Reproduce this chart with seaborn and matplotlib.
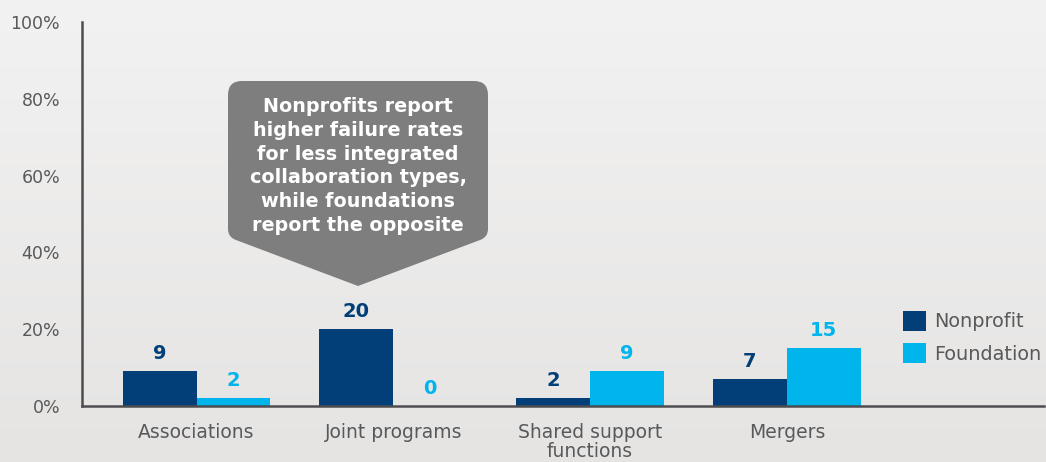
import numpy as np
import pandas as pd
import matplotlib
matplotlib.use("Agg")
import matplotlib.pyplot as plt
import seaborn as sns
from matplotlib.path import Path
from matplotlib.patches import PathPatch
from matplotlib.transforms import Affine2D

# ---- data ----
categories = ["Associations", "Joint programs", "Shared support\nfunctions", "Mergers"]
nonprofit = [9, 20, 2, 7]
foundation = [2, 0, 9, 15]
series = ["Nonprofit", "Foundation"]
yticks = [0, 20, 40, 60, 80, 100]
ytick_labels = ["0%", "20%", "40%", "60%", "80%", "100%"]
callout_text = ("Nonprofits report\nhigher failure rates\nfor less integrated\n"
                "collaboration types,\nwhile foundations\nreport the opposite")

NAVY = "#023F78"
SKY = "#00B4EC"
AXIS = "#4D4D4F"
TEXT = "#58595B"

df = pd.DataFrame({
    "category": categories * 2,
    "group": [series[0]] * len(nonprofit) + [series[1]] * len(foundation),
    "value": nonprofit + foundation,
})

sns.set_theme(style="white")
plt.rcParams["font.family"] = ["DejaVu Sans"]

W, H = 1046, 462
fig = plt.figure(figsize=(W / 100, H / 100), dpi=100)

# soft vertical gradient behind everything
bg = fig.add_axes([0, 0, 1, 1], zorder=-10)
t = np.linspace(0, 1, 256)[:, None, None]
top = np.array([243, 242, 242]) / 255
bot = np.array([229, 228, 227]) / 255
bg.imshow(top + (bot - top) * t, aspect="auto", extent=[0, 1, 0, 1], origin="upper")
bg.axis("off")

ax = fig.add_axes([82 / W, 1 - 406 / H, (1044 - 82) / W, (406 - 22) / H])
ax.patch.set_alpha(0)

sns.barplot(data=df, x="category", y="value", hue="group", hue_order=series,
            palette=[NAVY, SKY], width=0.75, gap=0, saturation=1,
            errorbar=None, linewidth=0, edgecolor="none", ax=ax)

ax.set_xlim(-0.582, 4.307)
ax.set_ylim(0, 100)
ax.set_yticks(yticks)
ax.set_yticklabels(ytick_labels)
ax.set_xlabel("")
ax.set_ylabel("")

for side in ["top", "right"]:
    ax.spines[side].set_visible(False)
for side in ["left", "bottom"]:
    ax.spines[side].set_color(AXIS)
    ax.spines[side].set_linewidth(1.8)

ax.tick_params(axis="y", direction="out", length=5.8, width=1.8, color=AXIS,
               labelsize=12.5, labelcolor=TEXT, pad=10)
ax.tick_params(axis="x", length=0, labelsize=13.5, labelcolor=TEXT, pad=12)
for lbl in ax.get_xticklabels():
    lbl.set_linespacing(1.05)

# value labels above bars
for cont, color in zip(ax.containers, [NAVY, SKY]):
    ax.bar_label(cont, fmt="%g", padding=6, color=color,
                 fontsize=14, fontweight="bold")

# legend
handles, labels = ax.get_legend_handles_labels()
ax.legend(handles, labels, loc="upper left", frameon=False,
          bbox_to_anchor=(903 / W, 1 - 311 / H), bbox_transform=fig.transFigure,
          fontsize=13.9, handlelength=1.19, handleheight=1.2, handletextpad=0.42,
          labelspacing=0.62, borderpad=0, borderaxespad=0, labelcolor=TEXT)

# callout arrow box, laid out in pixel units (y downward)
px = Affine2D().scale(1 / W, -1 / H).translate(0, 1) + fig.transFigure
x0, x1, y0, yb = 228, 488, 81, 237
tip = (358, 286)
r, r2 = 14, 8
dx, dy = 130 / 139 * r2, 49 / 139 * r2
verts = [
    (x0 + r, y0), (x1 - r, y0),
    (x1, y0), (x1, y0 + r),
    (x1, yb - r2),
    (x1, yb), (x1 - dx, yb + dy),
    tip,
    (x0 + dx, yb + dy),
    (x0, yb), (x0, yb - r2),
    (x0, y0 + r),
    (x0, y0), (x0 + r, y0),
    (x0 + r, y0),
]
codes = [Path.MOVETO, Path.LINETO,
         Path.CURVE3, Path.CURVE3,
         Path.LINETO,
         Path.CURVE3, Path.CURVE3,
         Path.LINETO,
         Path.LINETO,
         Path.CURVE3, Path.CURVE3,
         Path.LINETO,
         Path.CURVE3, Path.CURVE3,
         Path.CLOSEPOLY]
fig.patches.append(PathPatch(Path(verts, codes), transform=px,
                             facecolor="#7F7E7E", edgecolor="none", zorder=5))
fig.text(358, 166, callout_text, transform=px, ha="center", va="center",
         color="white", fontsize=13.8, fontweight="bold", linespacing=1.33,
         zorder=6)

fig.savefig("out.png", dpi=100)
